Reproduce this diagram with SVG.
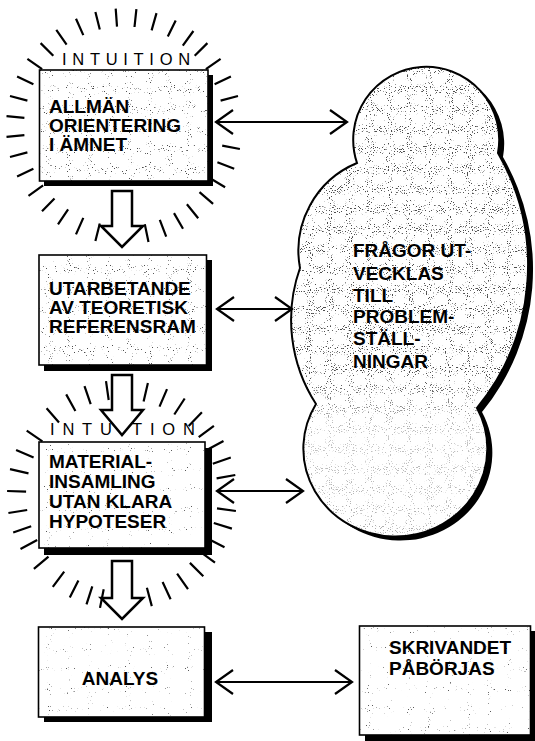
<svg xmlns="http://www.w3.org/2000/svg" width="535" height="741" viewBox="0 0 535 741">
<style>
.t{font-family:"Liberation Sans",Arial,sans-serif;font-weight:bold;font-size:19px;fill:#000}
.intu{font-family:"Liberation Sans",Arial,sans-serif;font-size:16.5px;fill:#000}
.ray{stroke:#000;stroke-width:2.2;fill:none}
.box{fill:none;stroke:#000;stroke-width:1.6}
.shadow{fill:#000}
.conn{stroke:#000;stroke-width:2;fill:none;marker-start:url(#oa);marker-end:url(#oa)}
.block{fill:#fff;stroke:#000;stroke-width:2.5;stroke-linejoin:miter}
</style>
<defs>
<marker id="oa" markerUnits="userSpaceOnUse" markerWidth="24" markerHeight="30" viewBox="-20 -15 24 30" refX="0" refY="0" orient="auto-start-reverse">
<path d="M-17,-12 L0,0 L-17,12" fill="none" stroke="#000" stroke-width="2.2"/>
</marker>
<filter id="grain" x="0" y="0" width="1" height="1" color-interpolation-filters="sRGB">
<feTurbulence type="fractalNoise" baseFrequency="0.95" numOctaves="1" seed="4"/>
<feColorMatrix type="matrix" values="0 0 0 0 0.35  0 0 0 0 0.35  0 0 0 0 0.35  -16 0 0 0 4.6"/>
<feComposite in2="SourceGraphic" operator="in"/>
</filter>
<filter id="grainD" x="0" y="0" width="1" height="1" color-interpolation-filters="sRGB">
<feTurbulence type="fractalNoise" baseFrequency="0.95" numOctaves="1" seed="7"/>
<feColorMatrix type="matrix" values="0 0 0 0 0.3  0 0 0 0 0.3  0 0 0 0 0.3  -16 0 0 0 5.2"/>
<feComposite in2="SourceGraphic" operator="in"/>
</filter>
<filter id="grainC" x="0" y="0" width="1" height="1" color-interpolation-filters="sRGB">
<feTurbulence type="fractalNoise" baseFrequency="0.95" numOctaves="1" seed="11"/>
<feColorMatrix type="matrix" values="0 0 0 0 0.3  0 0 0 0 0.3  0 0 0 0 0.3  -16 0 0 0 5.8"/>
<feComposite in2="SourceGraphic" operator="in"/>
</filter>
<linearGradient id="fadeG" gradientUnits="userSpaceOnUse" x1="0" y1="65" x2="0" y2="540">
<stop offset="0" stop-color="#fff"/>
<stop offset="0.65" stop-color="#fff"/>
<stop offset="0.78" stop-color="#555"/>
<stop offset="1" stop-color="#777"/>
</linearGradient>
<mask id="cloudFade" maskUnits="userSpaceOnUse" x="0" y="0" width="535" height="741">
<rect x="0" y="0" width="535" height="741" fill="url(#fadeG)"/>
</mask>
<path id="cloudShape" d="M357,163 A73,73 0 1,1 498,153 A225,225 0 0,1 477,408 A92,88 0 1,1 316,404 A155,155 0 0,1 300,268 A95,95 0 0,1 357,163 Z"/>
</defs>

<g id="intuition1">
<path class="ray" d="M220.6,100.6L238,96 M214.6,84.2L230.9,76.6 M205.9,69.1L220.6,58.8 M194.7,55.8L207.4,43.1 M182.8,45.6L193.4,31 M167.8,36.6L175.7,20.4 M151.6,30.4L156.5,13.1 M134.5,27L136.4,9.1 M117,26.7L115.7,8.7 M99.8,29.5L95.4,12 M83.3,35.1L76,18.7 M66.6,44.6L56.3,29.9 M53.3,55.8L40.6,43.1 M42.1,69.1L27.4,58.8 M33.4,84.2L17.1,76.6 M27.4,100.6L10,96 M24.4,117.8L6.5,116.2 M24.4,135.2L6.5,136.8 M27.4,152.4L10,157 M33.4,168.8L17.1,176.4 M43.1,185.3L28.5,195.9 M54.5,198.4L42,211.3 M68.1,209.4L58,224.3 M83.3,217.9L76,234.4 M99.8,223.5L95.4,241 M144.8,224.3L148.5,241.9 M159.8,219.9L166.2,236.7 M174,213.1L183,228.7 M186.9,204.2L198.2,218.2 M199.5,192.1L213.1,203.9 M209.7,178L225.1,187.3 M217.4,162.3L234.2,168.7 M222.2,145.6L239.9,149"/>
<text class="intu" x="62" y="65" letter-spacing="5.7">INTUITION</text>
</g>

<g id="intuition2">
<path class="ray" d="M216.6,478.3L235.3,475 M212.8,463.7L230.8,457.5 M206.8,450L223.5,441 M198.7,437.2L213.9,425.8 M188.7,426L201.9,412.3 M174.3,414.5L184.7,398.5 M159.5,406.6L167,389.1 M143.6,401.5L147.9,383 M108.7,400L106,381.1 M90.7,404.2L84.5,386.2 M75.4,411L66.2,394.4 M59,422.5L46.6,408.2 M42.4,441.3L26.7,430.7 M33.6,457.5L16.1,450 M28.5,473.4L10,469.1 M26.1,491.6L7.1,491 M27.2,510L8.4,513 M31.2,526.3L13.2,532.5 M37.2,540L20.5,549 M48.5,556.7L33.9,568.9 M64.2,571.7L52.8,586.9 M78.4,580.5L69.8,597.5 M92.3,586.3L86.5,604.4 M103.7,589.3L100,607.9 M146.9,587.7L151.8,606.1 M162.6,582L170.6,599.2 M177.1,573.6L188,589.2 M189.9,562.9L203.3,576.3 M199.7,551.4L215,562.6 M207.5,538.6L224.5,547.2 M213.8,523L231.9,528.6 M217,508.3L235.9,511"/>
<text class="intu" x="50" y="435" letter-spacing="7.8">INTUITION</text>
</g>

<g id="node-allman">
<rect class="shadow" x="44" y="75" width="169" height="111"/>
<rect x="39.5" y="70" width="168.5" height="111" fill="#fff"/>
<rect x="39.5" y="70" width="168.5" height="111" fill="#000" filter="url(#grainD)"/>
<rect class="box" x="39.5" y="70" width="168.5" height="111"/>
<text class="t" x="49" y="113">ALLMÄN</text>
<text class="t" x="49" y="132">ORIENTERING</text>
<text class="t" x="49" y="151">I ÄMNET</text>
</g>

<g id="node-utarbetande">
<rect class="shadow" x="44" y="260" width="168" height="111"/>
<rect x="39" y="255" width="167.5" height="110" fill="#fff"/>
<rect x="39" y="255" width="167.5" height="110" fill="#000" filter="url(#grainD)"/>
<rect class="box" x="39" y="255" width="167.5" height="110"/>
<text class="t" x="49" y="295">UTARBETANDE</text>
<text class="t" x="49" y="314">AV TEORETISK</text>
<text class="t" x="49" y="333">REFERENSRAM</text>
</g>

<g id="node-materialinsamling">
<rect class="shadow" x="44" y="448" width="168" height="107"/>
<rect x="39" y="442" width="166" height="106" fill="#fff"/>
<rect x="39" y="442" width="166" height="106" fill="#000" filter="url(#grain)"/>
<rect class="box" x="39" y="442" width="166" height="106"/>
<text class="t" x="49" y="468">MATERIAL-</text>
<text class="t" x="49" y="488">INSAMLING</text>
<text class="t" x="49" y="508">UTAN KLARA</text>
<text class="t" x="49" y="528">HYPOTESER</text>
</g>

<g id="node-analys">
<rect class="shadow" x="44" y="632" width="168" height="90"/>
<rect x="38.5" y="627" width="166" height="90" fill="#fff"/>
<rect x="38.5" y="627" width="166" height="90" fill="#000" filter="url(#grain)"/>
<rect class="box" x="38.5" y="627" width="166" height="90"/>
<text class="t" x="120" y="685" text-anchor="middle" font-size="18">ANALYS</text>
</g>

<g id="node-skrivandet">
<rect class="shadow" x="365" y="631" width="172" height="110"/>
<rect x="359.5" y="626" width="171" height="109" fill="#fff"/>
<rect x="359.5" y="626" width="171" height="109" fill="#000" filter="url(#grain)"/>
<rect class="box" x="359.5" y="626" width="171" height="109"/>
<text class="t" x="389" y="654" font-size="17">SKRIVANDET</text>
<text class="t" x="389" y="675" font-size="17">PÅBÖRJAS</text>
</g>

<g id="node-fragor">
<use href="#cloudShape" transform="translate(5,4)" fill="#000"/>
<use href="#cloudShape" fill="#fff"/>
<use href="#cloudShape" fill="#000" filter="url(#grainC)" mask="url(#cloudFade)"/>
<use href="#cloudShape" fill="none" stroke="#000" stroke-width="2"/>
<text class="t" x="353" y="257">FRÅGOR UT-</text>
<text class="t" x="353" y="280">VECKLAS</text>
<text class="t" x="353" y="302">TILL</text>
<text class="t" x="353" y="323">PROBLEM-</text>
<text class="t" x="353" y="345">STÄLL-</text>
<text class="t" x="353" y="368">NINGAR</text>
</g>

<g id="connectors">
<path class="block" d="M112,191 L132,191 L132,226 L143,226 L122,247 L101,226 L112,226 Z"/>
<path class="block" d="M112,375 L132,375 L132,410 L143,410 L122,435 L101,410 L112,410 Z"/>
<path class="block" d="M112,561 L132,561 L132,598 L143,598 L122,619 L101,598 L112,598 Z"/>
<line class="conn" x1="216" y1="122" x2="347" y2="122"/>
<line class="conn" x1="217" y1="309" x2="292" y2="309"/>
<line class="conn" x1="217" y1="491" x2="303" y2="491"/>
<line class="conn" x1="216" y1="682" x2="352" y2="682"/>
</g>
</svg>
